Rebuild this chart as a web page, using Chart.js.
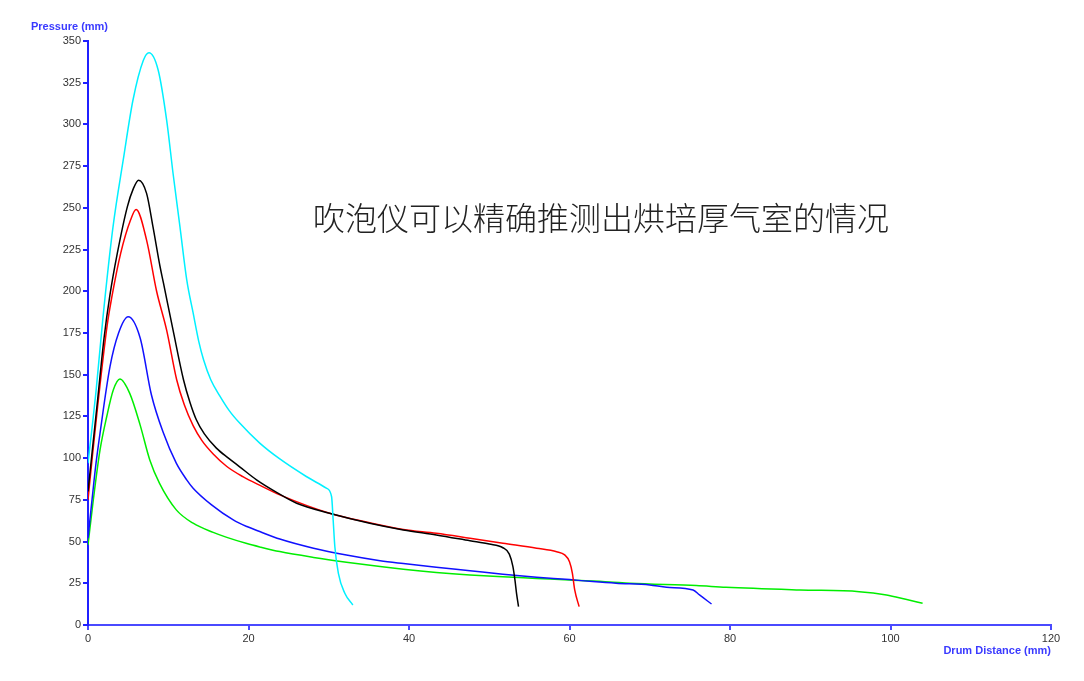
<!DOCTYPE html>
<html>
<head>
<meta charset="utf-8">
<script src="https://cdn.jsdelivr.net/npm/chart.js@4/dist/chart.umd.min.js"></script>
<style>
  body { margin: 0; background: #fff; }
  #wrap { position: relative; width: 1084px; height: 681px; }
  #note {
    position: absolute; left: 313px; top: 199px;
    font-family: "Noto Sans CJK SC", sans-serif; font-size: 32px; font-weight: 300;
    line-height: 34px; color: #222; white-space: nowrap;
  }
</style>
</head>
<body>
<div id="wrap">
  <canvas id="chart" width="1084" height="681"></canvas>
  <div id="note">吹泡仪可以精确推测出烘培厚气室的情况</div>
</div>
<script>
// Values (drum distance in mm, pressure in mm)
const cyanX = [0, 0.5, 1.0, 1.87, 3.1, 4.4, 5.6, 6.9, 7.6, 8.75, 9.8, 10.6, 11.46, 12.3, 13.1, 13.8, 14.4, 15.3, 16.4, 17.6, 18.9, 21.4, 23.9, 27.2, 29.7, 30.35, 30.55, 30.76, 31.2, 32.0, 33.0];
const cyanY = [97, 118, 140, 184.5, 238, 279, 314.5, 338.5, 343, 332.5, 302.6, 270.6, 238.6, 207, 187, 170, 159, 147, 137.5, 128.5, 121, 109, 99.5, 89, 82, 77, 62.9, 46.9, 31, 19, 12];

const blackX = [0, 0.5, 1.2, 2.0, 2.74, 3.65, 4.9, 5.65, 6.3, 7.3, 8.1, 8.97, 9.4, 10.6, 11.9, 12.7, 13.5, 14.5, 16.0, 17.5, 18.9, 21.0, 23.5, 26, 30.1, 35.1, 39.3, 43.4, 47.6, 50.0, 51.7, 52.5, 52.95, 53.2, 53.4, 53.65];
const blackY = [80, 103, 135, 172, 198, 222.7, 250.6, 261.5, 266.6, 258.7, 238.6, 215, 205, 176.7, 147, 133.5, 123, 114.5, 106, 100, 94.8, 87, 79.5, 73, 67, 61, 57, 54, 50.5, 48.5, 46.3, 42.5, 35, 27, 19, 11];

const redX = [0, 0.5, 1.2, 2.4, 2.95, 4.07, 5.3, 6.0, 7.3, 8.55, 9.8, 11.05, 12.0, 13.1, 14.2, 15.6, 17.3, 19.3, 21.5, 23.9, 30.1, 35.1, 39.3, 43.4, 47.6, 51.7, 55.9, 58.4, 59.4, 60.0, 60.36, 60.65, 61.2];
const redY = [75, 99, 131, 180, 196, 222.7, 242.7, 249, 230.7, 200, 176.7, 147, 132, 119.5, 110.5, 102.5, 95, 88.9, 83.5, 78, 67, 61.3, 57.3, 55, 52, 49, 46, 43.9, 42, 37.9, 31, 21, 11];

const blueX = [0, 0.5, 1.0, 1.5, 2.74, 3.8, 5.0, 6.5, 7.9, 9.4, 11.0, 12.3, 13.1, 15.4, 18.1, 19.8, 21.4, 23.9, 28.1, 32.2, 36.4, 39.3, 43.4, 47.6, 51.7, 55.9, 60.0, 62.9, 65.8, 70, 72.1, 75.4, 76.2, 77.7];
const blueY = [52, 75, 97, 115, 154.8, 174.8, 184.7, 172, 138, 115, 97, 87, 82, 72, 63, 59, 56, 51.5, 46, 41.9, 38.5, 36.8, 34.6, 32.5, 30.4, 28.6, 27.2, 26, 25, 24, 22.6, 21, 18, 12.6];

const greenX = [0, 0.66, 1.5, 2.33, 3.15, 3.98, 5.2, 6.5, 7.7, 8.9, 11.0, 13.1, 15.6, 17.3, 19.8, 21.4, 23.9, 28.1, 32.2, 36.4, 39.3, 43.4, 47.6, 51.7, 55.9, 60, 65, 67.5, 75.8, 79.5, 88.7, 96.1, 99.5, 101.9, 104];
const greenY = [48, 74.9, 104.9, 124.8, 140.8, 147.4, 138.8, 119.8, 98.9, 85, 69, 61, 55.5, 52.5, 48.8, 46.8, 44, 40.5, 37.6, 35, 33.4, 31.5, 30, 28.9, 27.9, 26.9, 25.8, 25, 23.6, 22.6, 21, 20, 18, 15.4, 13];

const yTitle = 'Pressure (mm)';
const xTitle = 'Drum Distance (mm)';

function pts(xs, ys) {
  return xs.map((x, i) => ({ x: x, y: ys[i] }));
}

function series(xs, ys, color) {
  return {
    data: pts(xs, ys),
    borderColor: color,
    borderWidth: 1.5,
    pointRadius: 0,
    fill: false,
    cubicInterpolationMode: 'monotone'
  };
}

// Draw the two axis titles where the original puts them
const axisTitles = {
  id: 'axisTitles',
  afterDraw(chart) {
    const ctx = chart.ctx;
    const area = chart.chartArea;
    ctx.save();
    ctx.fillStyle = '#3a3aff';
    ctx.font = 'bold 11px "Liberation Sans", Arial, sans-serif';
    ctx.textBaseline = 'middle';
    ctx.textAlign = 'left';
    ctx.fillText(yTitle, 31, 27);
    ctx.textAlign = 'right';
    ctx.fillText(xTitle, area.right, 651);
    ctx.restore();
  }
};

const tickFont = { family: '"Liberation Sans", Arial, sans-serif', size: 11 };

new Chart(document.getElementById('chart'), {
  type: 'line',
  data: {
    datasets: [
      series(cyanX, cyanY, '#00f0ff'),
      series(blackX, blackY, '#000000'),
      series(redX, redY, '#ff0000'),
      series(blueX, blueY, '#1010ff'),
      series(greenX, greenY, '#00ee00')
    ]
  },
  options: {
    responsive: false,
    animation: false,
    layout: { padding: { top: 41, right: 33, bottom: 0, left: 0 } },
    plugins: { legend: { display: false }, tooltip: { enabled: false } },
    scales: {
      x: {
        type: 'linear',
        min: 0,
        max: 120,
        ticks: { stepSize: 20, color: '#333', font: tickFont, padding: 2, maxRotation: 0 },
        grid: { drawOnChartArea: false, drawTicks: true, tickLength: 5, color: '#4a4aff', lineWidth: 2 },
        border: { color: '#4a4aff', width: 2 },
        afterFit(scale) { scale.height = 56; }
      },
      y: {
        min: 0,
        max: 350,
        ticks: { stepSize: 25, color: '#333', font: tickFont, padding: 2 },
        grid: { drawOnChartArea: false, drawTicks: true, tickLength: 5, color: '#2020ff', lineWidth: 2 },
        border: { color: '#2020ff', width: 2 },
        afterFit(scale) { scale.width = 88; }
      }
    }
  },
  plugins: [axisTitles]
});
</script>
</body>
</html>
